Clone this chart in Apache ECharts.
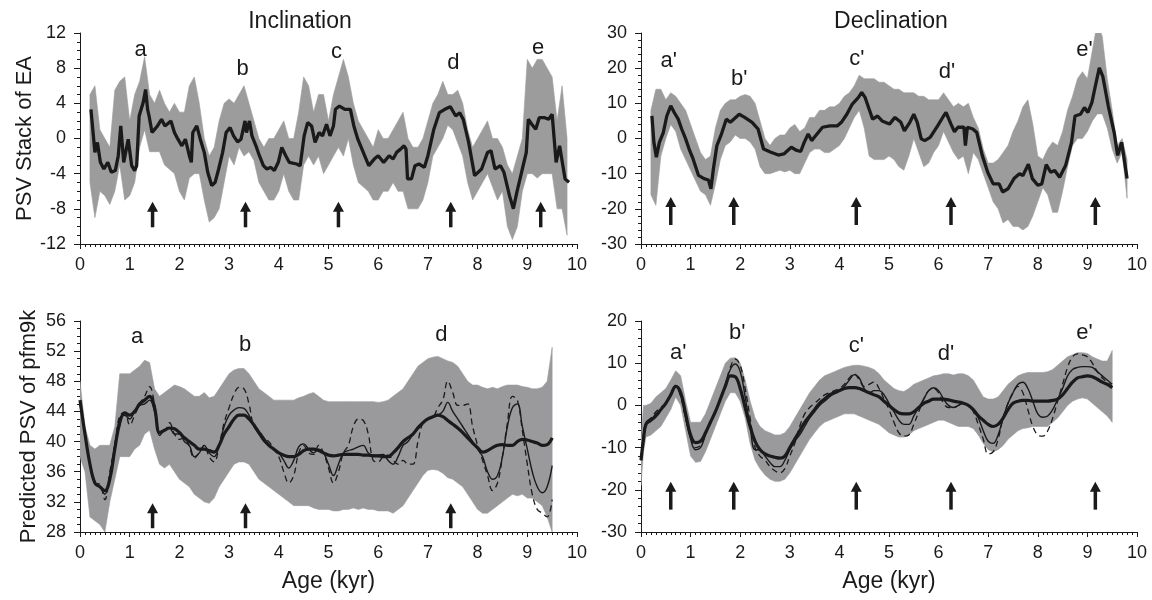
<!DOCTYPE html>
<html><head><meta charset="utf-8">
<script src="https://cdn.jsdelivr.net/npm/echarts@6/dist/echarts.min.js"></script>
<style>html,body{margin:0;padding:0;background:#fff}#c{width:1152px;height:600px}</style>
</head><body><div id="c"></div>
<script>
// ---------- Top panels: PSV stack of EA ----------
const topAge = [0.2,0.3,0.4,0.5,0.6,0.7,0.8,0.9,
 1.0,1.1,1.2,1.3,1.4,1.5,1.6,1.7,1.8,1.9,
 2.0,2.1,2.2,2.3,2.4,2.5,2.6,2.7,2.8,2.9,
 3.0,3.1,3.2,3.3,3.4,3.5,3.6,3.7,3.8,3.9,
 4.0,4.1,4.2,4.3,4.4,4.5,4.6,4.7,4.8,4.9,
 5.0,5.1,5.2,5.3,5.4,5.5,5.6,5.7,5.8,5.9,
 6.0,6.1,6.2,6.3,6.4,6.5,6.6,6.7,6.8,6.9,
 7.0,7.1,7.2,7.3,7.4,7.5,7.6,7.7,7.8,7.9,
 8.0,8.1,8.2,8.3,8.4,8.5,8.6,8.7,8.8,8.9,
 9.0,9.1,9.2,9.3,9.4,9.5,9.6,9.7,9.8];
const incUpper = [5,6,1,0,-1,5.5,6.5,7,
 2,5,6.5,9.3,5,4,5.5,4,3,4,
 3,3,6,7,4,0,-2,-1,2,4,
 4.5,4,5,6,4,2,0,-1,0,0,
 1,2,0,0,3,7,6,3,5,5,
 2,5,7,9,7,4,2,1,0,-1,
 1,0,0,1,2,3,0,-1,-1,0,
 2,4,5,6.5,5,5,5.5,4,1,-1,
 0,1,2,0,0,-1,-3,-4,-2,0,
 9,8,9,9,8,7,2,6,0];
const incLower = [-5,-9,-6,-6.5,-7.5,-6,-3,-7,
 -6.5,-5,-1,1,-1.5,-1.5,-1.5,-3,-3.5,-4,
 -6,-7,-4.5,-4,-4,-7,-9.5,-9,-8,-5,
 -2,-3,-1,-2,-1.5,-2.5,-5,-6,-7,-7,
 -6,-4,-6,-7,-7,-3,-2,-3,-2,-4,
 -3,-2,-1,-2,0,-3,-5,-5.5,-6,-7,
 -7,-6,-6,-5,-6,-6,-8,-8,-8,-7,
 -5,-2,-1,0,1.5,1,-0.5,-2,-5,-7,
 -6,-5,-4,-5.5,-7,-6,-10,-11.5,-10,-6,
 -4,-4,-4.5,-4,-4,-4,-8,-8,-11];
const incMean = [[0.22,3.32],[0.30,-1.58],[0.35,-0.45],[0.41,-2.71],[0.48,-3.47],[0.56,-2.71],[0.63,-3.84],[0.71,-3.65],
 [0.77,-1.96],[0.82,1.43],[0.88,-2.71],[0.97,-0.08],[1.04,-3.09],[1.10,-3.65],[1.14,-3.09],[1.19,2.56],[1.27,4.07],
 [1.32,5.58],[1.36,3.32],[1.39,2.56],[1.45,0.68],[1.56,1.43],[1.64,2.19],[1.71,1.43],[1.83,2.0],[1.90,0.68],[1.97,-0.08],
 [2.05,-0.83],[2.12,-0.08],[2.20,-1.96],[2.24,-2.71],[2.27,0.68],[2.35,1.43],[2.42,-0.08],[2.50,-1.58],[2.57,-3.84],
 [2.65,-5.35],[2.72,-4.97],[2.79,-3.47],[2.87,-1.58],[2.94,0.68],[3.02,1.24],[3.09,0.3],[3.17,-0.38],[3.24,-0.08],
 [3.32,2.0],[3.35,0.68],[3.41,2.0],[3.46,0.3],[3.54,-0.83],[3.61,-1.96],[3.69,-3.09],[3.76,-3.47],[3.84,-3.28],
 [3.91,-3.65],[3.99,-2.71],[4.06,-1.02],[4.14,-1.96],[4.21,-2.71],[4.36,-2.9],[4.43,-3.09],[4.51,0.3],[4.58,1.81],
 [4.66,1.43],[4.73,-0.45],[4.81,0.68],[4.88,0.3],[4.96,1.62],[5.03,0.3],[5.10,1.43],[5.14,3.32],[5.22,3.69],[5.33,3.32],
 [5.44,3.32],[5.51,1.43],[5.59,-0.08],[5.70,-1.58],[5.81,-3.09],[5.92,-2.34],[6.00,-1.96],[6.11,-2.71],[6.22,-1.96],
 [6.30,-2.34],[6.37,-1.58],[6.45,-1.21],[6.52,-0.83],[6.56,-1.21],[6.59,-4.6],[6.67,-4.6],[6.74,-3.09],[6.82,-2.9],
 [6.93,-3.28],[7.00,-1.96],[7.12,1.06],[7.23,2.94],[7.34,3.32],[7.45,3.62],[7.56,2.56],[7.64,2.94],[7.71,2.19],
 [7.82,-0.45],[7.94,-4.22],[8.08,-3.47],[8.20,-1.58],[8.27,-1.39],[8.35,-3.47],[8.46,-3.09],[8.53,-3.84],[8.64,-6.48],
 [8.72,-7.99],[8.79,-6.1],[8.90,-3.47],[8.98,-1.58],[9.02,2.19],[9.09,1.62],[9.17,1.06],[9.24,2.37],[9.35,2.37],
 [9.43,2.19],[9.50,2.75],[9.58,-2.71],[9.65,-0.83],[9.69,-0.83],[9.76,-4.6],[9.84,-4.97]];

const decUpper = [8,14,14,11,13,12,10,8,
 4,0,-4,-6,-5,3,8,10,11,11,
 12,12.5,12,10,5,0,-2,0,1,1,
 3,4,2,3,6,6,8,8,9,9,
 10,12,13,15,18,17,17,17,16,16,
 15,14,14,13,13,13,12,12,11,11,
 11,13,11,9,10,9,10,6,3,-3,
 -7,-7,-6,-4,-2,2,5,9,11,4,
 -5,-6,-3,-1,-2,2,8,12,17,19,
 17,25,33,29,17,8,-2,0,-6];
const decLower = [-16,-19,-5,0,4,2,-3,-6,
 -9,-12,-15,-16,-19,-13,-6,-2,-1,1,
 0,0,-1,-3,-8,-10,-10,-9.5,-9,-9.5,
 -9,-10,-10,-7,-4,-3,-3,-4,-4,-3,
 -2,0,3,6,8,3,-5,-6,-6,-6,
 -5,-6,-8,-9,-5,0,-4,-8,-7,-4,
 -2,2,-1,-4,-6,-5,-10,-4,-6,-10,
 -14,-18,-20,-24,-23,-25,-25,-26,-25,-22,
 -18,-14,-16,-21,-21,-15,-8,-2,0,0,
 2,5,7,7,3,-3,-7,-4,-17];
const decMean = [[0.22,6.4],[0.26,-1.1],[0.31,-5.3],[0.37,-1.1],[0.45,1.7],[0.52,6.4],[0.6,9.3],[0.67,7.4],[0.75,5.5],
 [0.82,2.7],[0.9,-0.1],[0.97,-3],[1.05,-5.8],[1.16,-10.5],[1.27,-11.4],[1.36,-11.8],[1.41,-14.3],[1.46,-8.6],[1.53,-2],
 [1.61,0.8],[1.72,5.5],[1.8,4.6],[1.87,5.5],[1.98,6.9],[2.09,6],[2.24,4.6],[2.36,2.7],[2.47,-3],[2.62,-3.9],[2.77,-4.7],
 [2.88,-4.4],[3.03,-2.5],[3.14,-3.4],[3.22,-3.7],[3.29,-1.1],[3.37,1.3],[3.44,-0.6],[3.52,0.8],[3.66,3.2],[3.81,3.6],
 [3.96,3.6],[4.04,4.6],[4.15,6.9],[4.26,9.8],[4.38,11.6],[4.45,13.1],[4.52,11.6],[4.6,8.3],[4.67,5.5],[4.77,6.4],
 [4.86,5.0],[5.01,4.1],[5.12,6.0],[5.24,4.6],[5.31,2.2],[5.42,4.6],[5.5,6.9],[5.57,4.6],[5.65,-0.1],[5.72,-0.6],
 [5.83,0.3],[5.98,3.6],[6.1,6.4],[6.15,7.4],[6.25,4.1],[6.32,1.9],[6.39,3.2],[6.51,3.2],[6.54,-2],[6.58,3.2],[6.69,2.7],
 [6.77,1.7],[6.88,-4.8],[6.99,-9.6],[7.1,-12.9],[7.22,-12.9],[7.29,-15.2],[7.4,-14.3],[7.52,-11.4],[7.63,-10],
 [7.7,-10.5],[7.81,-7.3],[7.89,-11.4],[8.0,-13.3],[8.08,-12.9],[8.17,-7.4],[8.26,-9.6],[8.34,-9.1],[8.44,-11],
 [8.56,-7.7],[8.68,-1.1],[8.75,6.4],[8.86,6.9],[8.94,8.8],[9.01,7.4],[9.09,10.2],[9.16,14.9],[9.24,20.1],[9.31,17.7],
 [9.42,9.3],[9.54,1.7],[9.61,-4.8],[9.69,-1.1],[9.72,-1.1],[9.8,-11.4]];

// ---------- Bottom-left: predicted inclination (pfm9k) ----------
const predIncAge = [0.0,0.1,0.2,0.3,0.4,0.5,0.6,0.7,0.8,0.9,
 1.0,1.1,1.2,1.3,1.4,1.5,1.6,1.7,1.8,1.9,
 2.0,2.1,2.2,2.3,2.4,2.5,2.6,2.7,2.8,2.9,
 3.0,3.1,3.2,3.3,3.4,3.5,3.6,3.7,3.8,3.9,
 4.0,4.1,4.2,4.3,4.4,4.5,4.6,4.7,4.8,4.9,
 5.0,5.1,5.2,5.3,5.4,5.5,5.6,5.7,5.8,5.9,
 6.0,6.1,6.2,6.3,6.4,6.5,6.6,6.7,6.8,6.9,
 7.0,7.1,7.2,7.3,7.4,7.5,7.6,7.7,7.8,7.9,
 8.0,8.1,8.2,8.3,8.4,8.5,8.6,8.7,8.8,8.9,
 9.0,9.1,9.2,9.3,9.4,9.5];
const predIncUpper = [48,42,39.5,39,39.5,39.5,39.5,42,49,49,
 49,49.5,50,50.8,50.5,47,46,46.5,47,47.5,
 47.3,47,46.5,46,46,46.5,45.8,46,47,48,
 49,49.5,49.7,49.7,49,48,47,46.5,46,45.5,
 45.5,45.5,45.5,45.5,45.8,46,46.3,46.5,46,45.5,
 45.3,45.3,45.3,45.3,45.3,45.3,45.3,45.3,45.3,45.3,
 45.2,45.3,45.5,46,46.5,47,48,49,50,50.5,
 51,51.2,51.3,51,50.7,50.5,50,49,48,47.5,
 47.5,47.2,47,47.2,47,47.3,47.5,47.5,47.5,47.3,
 47.2,47,47,47.2,48,52.5];
const predIncLower = [38,36,30,29.5,29,28,32,35,38,38,
 38,39,39.5,41,41.5,39,37,36.5,37,36,
 35,34.5,34,33,32.5,32,31.8,32.5,34,35,
 36,37,37.3,37.3,37,36,35,34.5,34,33.5,
 33,32.5,32,31.5,31.5,31.5,31.5,31.2,31,31,
 31,30.8,30.8,31,31,31.2,31,31.2,31,31,
 30.8,30.8,30.8,30.5,31,31.5,32.5,33.5,34.5,35.5,
 36.2,36.3,36.2,35.8,35.2,35,34.5,34,33,32,
 31,30.5,30.5,31,31.5,32,32.5,33,32.8,33,
 32.5,32.5,32,31.5,30,28];
const predIncMean = [45.5,41,37,34.5,34,33.5,35,39,42.5,43.8,
 43.5,44,45,45.5,46,44.5,41.2,41.5,41.8,41.7,
 41.2,40.5,40,39.5,39,39,38.8,38.6,39.5,41,
 42,43,43.5,43.5,43,42.2,41.2,40.3,39.5,39,
 38.5,38.2,38,38,38.3,38.8,39,39,38.8,38.5,
 38.2,38.1,38.2,38.3,38.3,38.3,38.3,38.2,38.2,38.1,
 38.1,38,38,38.5,39.2,40,40.5,41,41.8,42.5,
 43,43.3,43.5,43.3,42.8,42.3,41.8,41.2,40.5,39.8,
 39.2,38.6,38.8,39.2,39.5,39.6,39.5,39.5,40,40.3,
 40.2,40,39.8,39.5,39.6,40.5];
const predIncThin = [45,41,37,34.5,34,33,35.5,39.5,43,43.5,
 43,44,44.8,45,45.5,44,40.8,41.5,41.8,41,
 41,40,39.5,38,38.5,39.5,38.5,38,39.5,42,
 43.5,44.2,44.5,44.4,43.5,42,41,40,39.5,39,
 38.5,37.5,36.5,37.5,39.3,39.7,39,38.5,39,38.5,
 37,35.5,37,38.5,38.8,39,39.3,39.5,38.5,38.2,
 38.2,38.3,37.5,37,38,39.5,40,41,42,42.5,
 43,43.2,43.5,44,45.2,44,43,42,41,40,
 39,38,36,35,35.5,38,42,44.5,45,42,
 39,36,34,33.2,34,36.8];
const predIncDash = [45,41,37,34.5,34.3,32.3,36,39.5,43.5,43.8,
 42.2,43.5,45,46,47.3,45,41.5,41.5,42.5,41,
 40.3,40.5,39.3,37.8,38.5,39.5,38,37.3,39.5,42.5,
 44.5,46.3,47.2,47,45,42,41.5,40.5,40,39,
 38,36,34.5,35.5,38.5,39.5,38.5,38.3,39.5,38.5,
 36.5,34.5,36,38.5,39.5,42,43,42.8,41,37.5,
 37.3,38,38.2,37.5,37,37.5,37,37,40,42.5,
 43,43.2,44.5,45.5,48,46.5,44.8,44.8,45,42,
 39.5,37.5,35.5,33.5,34.5,38,42.5,46,45.5,41.5,
 37,33,31,30.5,30,32.3];

// ---------- Bottom-right: predicted declination (pfm9k) ----------
const predDecAge = [0.0,0.05,0.1,0.2,0.3,0.4,0.5,0.6,0.7,0.8,0.9,
 1.0,1.1,1.2,1.3,1.4,1.5,1.6,1.7,1.8,1.9,
 2.0,2.1,2.2,2.3,2.4,2.5,2.6,2.7,2.8,2.9,
 3.0,3.1,3.2,3.3,3.4,3.5,3.6,3.7,3.8,3.9,
 4.0,4.1,4.2,4.3,4.4,4.5,4.6,4.7,4.8,4.9,
 5.0,5.1,5.2,5.3,5.4,5.5,5.6,5.7,5.8,5.9,
 6.0,6.1,6.2,6.3,6.4,6.5,6.6,6.7,6.8,6.9,
 7.0,7.1,7.2,7.3,7.4,7.5,7.6,7.7,7.8,7.9,
 8.0,8.1,8.2,8.3,8.4,8.5,8.6,8.7,8.8,8.9,
 9.0,9.1,9.2,9.3,9.4,9.5];
const predDecUpper = [-8,0,0,0.5,2,3,4,6,8.2,7,1,
 -4,-4,-4,-2,1,4,7,10,11.2,11.3,
 10,6,1,-3,-5,-6,-6.5,-7,-7,-6.5,
 -5,-3,-1,1,3,4.5,6,7,7.5,8,
 8.5,9,9.3,9.5,9.5,9.3,9,8.5,7.5,6,
 5,4,3.5,3.3,4,5,5.5,6,6.5,7,
 7.2,7.5,7.5,7.2,7.5,7.5,7,6,4,2,
 1.5,1.5,2,3.5,5,6,7,7.5,7.8,7.8,
 7.8,7.8,8,8.5,9.5,10.5,11.5,12,12.5,12.5,
 12.3,11.5,11,10.5,10.5,13];
const predDecLower = [-19,-11,-7.5,-7,-6,-5,-3,-1,2,0,-6,
 -12,-13.5,-13.3,-11,-8,-5,-2,1,3,3,
 1,-3,-9,-13,-15,-16.5,-17.5,-18,-18,-17.5,
 -16,-14,-12,-10,-8,-6.5,-5,-4,-3.5,-3,
 -2.5,-2,-2,-2,-2.5,-3,-3.5,-4,-4.5,-5.5,
 -6.5,-7,-7.5,-7.5,-7,-6,-5.5,-5,-4.5,-4,
 -3.5,-3.5,-4,-4.5,-5,-5,-5,-5.5,-7,-9,
 -10.5,-11,-10.5,-9.5,-8,-7,-6,-5.5,-5.3,-5,
 -5,-5,-5,-4,-3,-1.5,0,1,1.5,1.8,
 1.5,0.5,-0.5,-1.5,-2.5,-4];
const predDecMean = [-13,-8,-4.5,-3.5,-2.5,-1,0.5,2.5,4.5,3,-2,
 -7,-8.8,-8.5,-6.5,-4,-1.5,1.5,4.5,7,6.8,
 4,-0.5,-5,-8.5,-10.5,-11.5,-12,-12.3,-12.5,-12,
 -10,-8,-6,-4,-2.5,-1,0.5,1.5,2.5,3,
 3.5,4,4.2,4.2,4,3.5,3,2.5,2,1,
 0,-1,-1.8,-2,-2,-1.5,-0.5,0.5,1,1.5,
 1.5,1.5,1.3,1,0.8,0.5,0,-1,-2.5,-3.5,
 -4.5,-5,-4.5,-3,-1,0.5,1,1.2,1.2,1,
 1,1,1,1.2,1.5,2.5,4,5.5,6.5,6.8,
 7,6.8,6.2,5.5,5,4.2];
const predDecThin = [-13,-7,-4,-3.5,-2,-1,0.5,2.5,4.7,2.5,-3,
 -8,-10.5,-10,-7,-4,-1.5,1.5,5,8.5,9.8,
 8,2,-5,-10.5,-10.5,-12,-13.5,-14.5,-14.5,-13,
 -10.5,-8.5,-7,-5,-3,-1.5,0,1,2,2.8,
 3.5,4.5,6,7.3,6.5,4,3,3.5,3.5,2.5,
 0.5,-1.5,-3.5,-4.5,-4.5,-2.5,-0.5,1.5,3.5,4.2,
 3.5,1.5,0,-0.5,0,0.5,0,-1,-3,-6,
 -8.5,-9,-7,-3,0.5,3,5,5.5,4,1,
 -2,-2.8,-2.5,-1,1.5,4,7,8.5,9,9.2,
 9.2,9,8,7,6,5];
const predDecDash = [-13,-7,-4,-3,-1.5,-0.5,0.5,2.5,4.5,2,-3,
 -7.5,-10,-9.5,-7,-4,-1.5,1.5,5,9,11,
 9.5,4,-3,-10,-12,-13,-14.5,-15.5,-16,-15,
 -12,-9,-5,-2,-0.5,0.5,1.5,2.5,3,3.5,
 4,5,6.5,7.5,6,4.5,5,5.5,4,1.5,
 -1,-4,-6.5,-7.3,-7,-4.5,-1.5,1.5,3.5,4,
 3,0.5,-0.5,-0.5,0,0.5,0,-1.5,-4.5,-8,
 -11.5,-11,-8,-3,0.5,3,4.5,3,-1,-5,
 -7,-7.3,-6,-3,1,5,9,11.5,12.2,12,
 11.5,10,8,6.5,5.5,4.5];

// ---------- Annotations ----------
const incArrowAge = [1.46,3.33,5.2,7.46,9.27];
const decArrowAge = [0.6,1.87,4.34,6.25,9.16];
const predIncArrowAge = [1.46,3.33,7.46];
const predDecArrowAge = [0.6,1.87,4.34,6.25,9.16];
const incLabels = ['a','b','c','d','e'];
const incLabelAge = [1.22,3.27,5.16,7.51,9.22];
const incLabelVal = [10.1,7.9,9.9,8.6,10.3];
const decLabels = ["a'","b'","c'","d'","e'"];
const decLabelAge = [0.56,1.98,4.35,6.17,8.94];
const decLabelVal = [22,16.8,22.5,18.9,25.3];
const predIncLabels = ['a','b','d'];
const predIncLabelAge = [1.15,3.32,7.27];
const predIncLabelVal = [53.9,52.8,54.1];
const predDecLabels = ["a'","b'","c'","d'","e'"];
const predDecLabelAge = [0.75,1.94,4.34,6.15,8.94];
const predDecLabelVal = [12.5,17.2,14.1,12.1,17.2];

// ---------- Build chart ----------
const FONT = "'Liberation Sans', Arial, Helvetica, sans-serif";
const INK = '#1a1a1a';
const chart = echarts.init(document.getElementById('c'), null, {renderer:'canvas'});

function pairs(xs, ys){ return xs.map((x,i)=>[x, ys[i]]); }
// Band between lower and upper envelopes, drawn as one polygon through the axis scales
function bandSeries(g, xs, lo, up, color){
  return {type:'custom', xAxisIndex:g, yAxisIndex:g, silent:true, z:1, clip:true,
    data: xs.map((x,i)=>[x, lo[i], up[i]]), encode:{x:0, y:[1,2]},
    renderItem:(params, api)=>{
      if (params.dataIndex !== 0) return null;
      const pts = [];
      for (let i = 0; i < xs.length; i++) pts.push(api.coord([xs[i], up[i]]));
      for (let i = xs.length - 1; i >= 0; i--) pts.push(api.coord([xs[i], lo[i]]));
      return {type:'polygon', shape:{points:pts}, style:{fill:color, stroke:color, lineWidth:0.6}};
    }};
}
function lineSeries(g, data, width, dashed, smooth){
  return {type:'line', xAxisIndex:g, yAxisIndex:g, data:data, symbol:'none', smooth:smooth||false, silent:true, z:3,
    lineStyle:{color:INK, width:width, type: dashed ? [6,4] : 'solid'}};
}
function arrowSeries(g, xs, base, tip){
  return {type:'custom', xAxisIndex:g, yAxisIndex:g, silent:true, z:5,
    data: xs.map(x=>[x, base, tip]), encode:{x:0, y:[1,2]},
    renderItem:(params, api)=>{
      const b = api.coord([api.value(0), api.value(1)]);
      const t = api.coord([api.value(0), api.value(2)]);
      return {type:'group', children:[
        {type:'line', shape:{x1:b[0], y1:b[1], x2:t[0], y2:t[1]+8}, style:{stroke:INK, lineWidth:3.5}},
        {type:'polygon', shape:{points:[[t[0]-5.5,t[1]+10],[t[0]+5.5,t[1]+10],[t[0],t[1]]]}, style:{fill:INK}}
      ]};
    }};
}
function labelSeries(g, xs, ys, texts){
  return {type:'custom', xAxisIndex:g, yAxisIndex:g, silent:true, z:6,
    data: xs.map((x,i)=>[x, ys[i]]), encode:{x:0, y:1},
    renderItem:(params, api)=>{
      const p = api.coord([api.value(0), api.value(1)]);
      return {type:'text', x:p[0], y:p[1], style:{text: texts[params.dataIndex], textAlign:'center',
        textVerticalAlign:'middle', font:'22px ' + FONT, fill:INK}};
    }};
}
function xAxis(g, named){
  return {type:'value', gridIndex:g, min:0, max:10, interval:1,
    axisLine:{onZero:false, lineStyle:{color:INK, width:1}},
    axisTick:{length:5, lineStyle:{color:INK}},
    minorTick:{show:true, splitNumber:10, length:3, lineStyle:{color:INK}},
    axisLabel:{fontSize:18, color:INK, margin:12, fontFamily:FONT},
    splitLine:{show:false},
    name: named ? 'Age (kyr)' : '', nameLocation:'middle', nameGap:38,
    nameTextStyle:{fontSize:23, color:INK, fontFamily:FONT}};
}
function yAxis(g, min, max, interval, minorSplit, name, gap){
  return {type:'value', gridIndex:g, min:min, max:max, interval:interval,
    axisLine:{show:true, onZero:false, lineStyle:{color:INK, width:1}},
    axisTick:{show:true, length:6, lineStyle:{color:INK}},
    minorTick:{show:true, splitNumber:minorSplit, length:3, lineStyle:{color:INK}},
    axisLabel:{fontSize:18, color:INK, margin:14, fontFamily:FONT},
    splitLine:{show:false},
    name: name || '', nameLocation:'middle', nameGap:gap || 44, nameRotate:90,
    nameTextStyle:{fontSize:22, color:INK, fontFamily:FONT}};
}

const series = [].concat(
  [bandSeries(0, topAge, incLower, incUpper, '#9c9c9c'),
   lineSeries(0, incMean, 3.3, false, false),
   arrowSeries(0, incArrowAge, -10.1, -7.2), labelSeries(0, incLabelAge, incLabelVal, incLabels)],

  [bandSeries(1, topAge, decLower, decUpper, '#9c9c9c'),
   lineSeries(1, decMean, 3.3, false, false),
   arrowSeries(1, decArrowAge, -24.6, -16.6), labelSeries(1, decLabelAge, decLabelVal, decLabels)],

  [bandSeries(2, predIncAge, predIncLower, predIncUpper, '#9a9a9d'),
   lineSeries(2, pairs(predIncAge, predIncDash), 1.3, true, 0.4),
   lineSeries(2, pairs(predIncAge, predIncThin), 1.4, false, 0.4),
   lineSeries(2, pairs(predIncAge, predIncMean), 3.2, false, 0.4),
   arrowSeries(2, predIncArrowAge, 28.5, 31.8), labelSeries(2, predIncLabelAge, predIncLabelVal, predIncLabels)],

  [bandSeries(3, predDecAge, predDecLower, predDecUpper, '#9a9a9d'),
   lineSeries(3, pairs(predDecAge, predDecDash), 1.3, true, 0.4),
   lineSeries(3, pairs(predDecAge, predDecThin), 1.4, false, 0.4),
   lineSeries(3, pairs(predDecAge, predDecMean), 3.2, false, 0.4),
   arrowSeries(3, predDecArrowAge, -24.7, -18.1), labelSeries(3, predDecLabelAge, predDecLabelVal, predDecLabels)]
);

chart.setOption({
  animation:false,
  backgroundColor:'#ffffff',
  textStyle:{fontFamily:FONT},
  grid:[
    {left:80, top:33, width:497, height:211},
    {left:641, top:33, width:496, height:211},
    {left:80, top:321, width:497, height:211},
    {left:641, top:321, width:496, height:211}
  ],
  xAxis:[xAxis(0,false), xAxis(1,false), xAxis(2,true), xAxis(3,true)],
  yAxis:[
    yAxis(0,-12,12,4,4,'PSV Stack of EA',42),
    yAxis(1,-30,30,10,5,''),
    yAxis(2,28,56,4,4,'Predicted PSV of pfm9k',40),
    yAxis(3,-30,20,10,5,'')
  ],
  graphic:[
    {type:'text', x:300, y:22, style:{text:'Inclination', textAlign:'center', textVerticalAlign:'middle', font:'23px '+FONT, fill:INK}},
    {type:'text', x:891, y:22, style:{text:'Declination', textAlign:'center', textVerticalAlign:'middle', font:'23px '+FONT, fill:INK}}
  ],
  series: series
});
</script>
</body></html>
